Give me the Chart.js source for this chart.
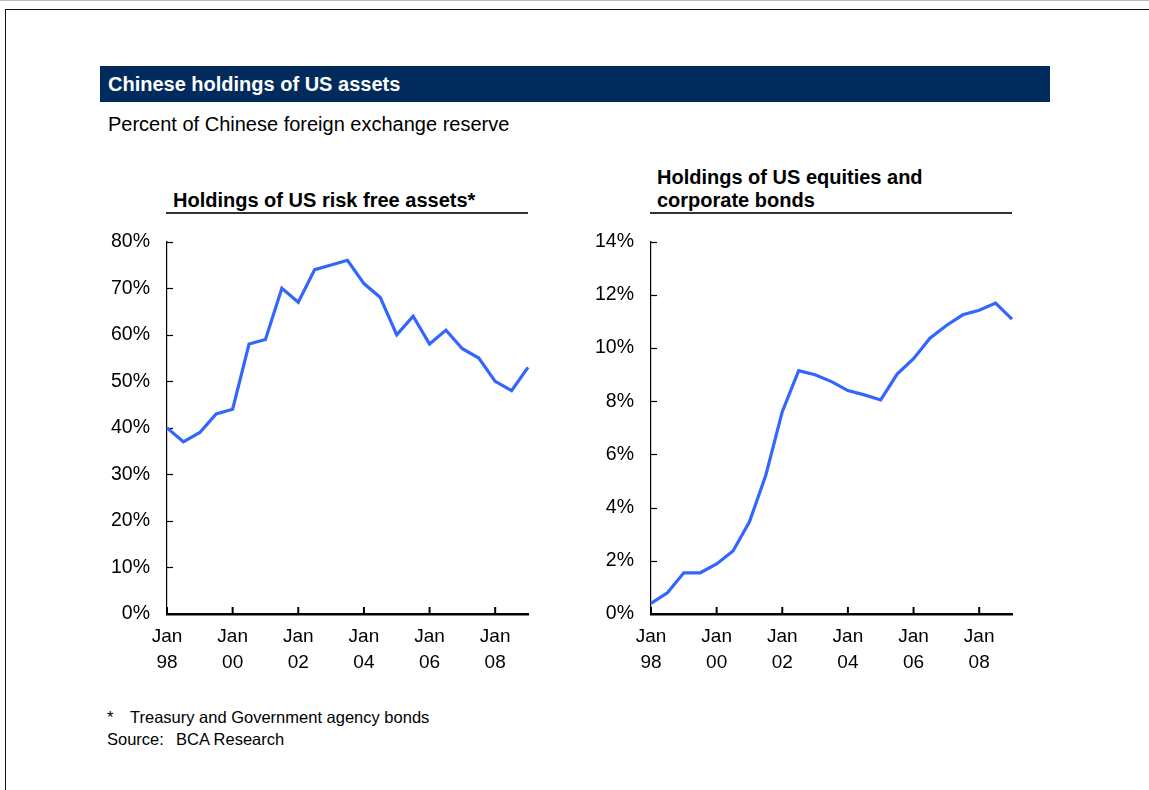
<!DOCTYPE html>
<html>
<head>
<meta charset="utf-8">
<title>Chinese holdings of US assets</title>
<script src="https://cdn.jsdelivr.net/npm/chart.js@4.4.0/dist/chart.umd.min.js"></script>
<style>
  html, body { margin: 0; padding: 0; background: #fff; overflow: hidden; }
  body { width: 1149px; height: 790px; position: relative;
         font-family: 'Liberation Sans', Arial, Helvetica, sans-serif; color: #000; }
  .page-top { position: absolute; left: 0; top: 0; width: 1149px; height: 1px; background: #bbb; }
  .frame { position: absolute; left: 5px; top: 9px; width: 1200px; height: 900px;
           border-top: 1.5px solid #111; border-left: 1.5px solid #111; }
  .banner { position: absolute; left: 100px; top: 66px; width: 950px; height: 36px; background: #002b5c;
            color: #fff; font-weight: bold; font-size: 20px; line-height: 37px; padding-left: 8px; box-sizing: border-box; }
  .sub { position: absolute; left: 108px; top: 113px; font-size: 20px; }
  .ptitle { position: absolute; font-weight: bold; font-size: 20px; line-height: 23px; }
  .rule { position: absolute; top: 212px; height: 1.5px; background: #333; }
  .chart-box { position: absolute; top: 213px; width: 440px; height: 479px; }
  .note { position: absolute; font-size: 16.5px; }
</style>
</head>
<body>
<div class="page-top"></div>
<div class="frame"></div>

<div class="banner">Chinese holdings of US assets</div>
<div class="sub">Percent of Chinese foreign exchange reserve</div>

<div class="ptitle" style="left:173px; top:189px;">Holdings of US risk free assets*</div>
<div class="rule" style="left:166px; width:362px;"></div>
<div class="ptitle" style="left:657px; top:166px;">Holdings of US equities and<br>corporate bonds</div>
<div class="rule" style="left:650px; width:362px;"></div>

<div class="chart-box" style="left:100px;"><canvas id="riskFree"></canvas></div>
<div class="chart-box" style="left:584px;"><canvas id="equities"></canvas></div>

<div class="note" style="left:107px; top:708px;">*</div>
<div class="note" style="left:130px; top:708px;">Treasury and Government agency bonds</div>
<div class="note" style="left:107px; top:730px;">Source:</div>
<div class="note" style="left:176px; top:730px;">BCA Research</div>

<script>
// half-yearly observations, Jan 1998 .. Jan 2009
const periods = [
  'Jan 98', 'Jul 98', 'Jan 99', 'Jul 99', 'Jan 00', 'Jul 00', 'Jan 01', 'Jul 01',
  'Jan 02', 'Jul 02', 'Jan 03', 'Jul 03', 'Jan 04', 'Jul 04', 'Jan 05', 'Jul 05',
  'Jan 06', 'Jul 06', 'Jan 07', 'Jul 07', 'Jan 08', 'Jul 08', 'Jan 09'
];
const tickLabels = ['Jan 98', 'Jan 00', 'Jan 02', 'Jan 04', 'Jan 06', 'Jan 08'];

// % of FX reserve in Treasuries and agency bonds
const riskFree = [40, 37, 39, 43, 44, 58, 59, 70, 67, 74, 75, 76, 71, 68, 60, 64, 58, 61, 57, 55, 50, 48, 53];
// % of FX reserve in US equities and corporate bonds
const equities = [0.4, 0.8, 1.55, 1.55, 1.88, 2.37, 3.47, 5.23, 7.61, 9.15, 9.0, 8.74, 8.4, 8.24, 8.05, 9.02, 9.6, 10.37, 10.85, 11.25, 11.42, 11.69, 11.09];

const lineColor = '#3366ff';

Chart.defaults.font.family = "'Liberation Sans', Arial, Helvetica, sans-serif";
Chart.defaults.color = '#000';

// tick marks pointing into the plot on both axes
const innerTicks = {
  id: 'innerTicks',
  beforeDatasetsDraw(chart) {
    const { ctx, chartArea: ca, scales: { x, y } } = chart;
    ctx.save();
    ctx.strokeStyle = '#000';
    ctx.lineWidth = 2;
    periods.forEach((p, i) => {
      if (!tickLabels.includes(p)) return;
      const px = x.getPixelForValue(i);
      ctx.beginPath();
      ctx.moveTo(px, ca.bottom);
      ctx.lineTo(px, ca.bottom - 7);
      ctx.stroke();
    });
    ctx.lineWidth = 1.2;
    y.ticks.forEach((t, i) => {
      if (i === 0) return;
      const py = Math.round(y.getPixelForTick(i)) + 0.5;
      ctx.beginPath();
      ctx.moveTo(ca.left, py);
      ctx.lineTo(ca.left + 6, py);
      ctx.stroke();
    });
    ctx.restore();
  }
};

function makePanel(id, values, max, step) {
  return new Chart(document.getElementById(id), {
    type: 'line',
    data: {
      labels: periods,
      datasets: [{
        data: values,
        borderColor: lineColor,
        borderWidth: 3.2,
        pointRadius: 0,
        tension: 0,
        fill: false
      }]
    },
    options: {
      responsive: true,
      maintainAspectRatio: false,
      animation: false,
      layout: { padding: { top: 0, right: 12, left: 0, bottom: 0 } },
      scales: {
        x: {
          offset: false,
          grid: { display: false, drawTicks: false },
          border: { display: true, color: '#000', width: 2.5 },
          ticks: {
            autoSkip: false,
            maxRotation: 0,
            padding: 10,
            font: { size: 19, lineHeight: 1.35 },
            callback: (v, i) => tickLabels.includes(periods[i]) ? periods[i].split(' ') : ''
          },
          afterFit: s => { s.height = 78; }
        },
        y: {
          min: 0,
          max: max,
          grid: { display: false, drawTicks: false },
          border: { display: true, color: '#000', width: 1.2 },
          ticks: {
            stepSize: step,
            padding: 17,
            font: { size: 19.5 },
            callback: v => v + '%'
          },
          afterFit: s => { s.width = 67; }
        }
      },
      plugins: {
        legend: { display: false },
        tooltip: { enabled: false }
      }
    },
    plugins: [innerTicks]
  });
}

makePanel('riskFree', riskFree, 80, 10);
makePanel('equities', equities, 14, 2);
</script>
</body>
</html>
